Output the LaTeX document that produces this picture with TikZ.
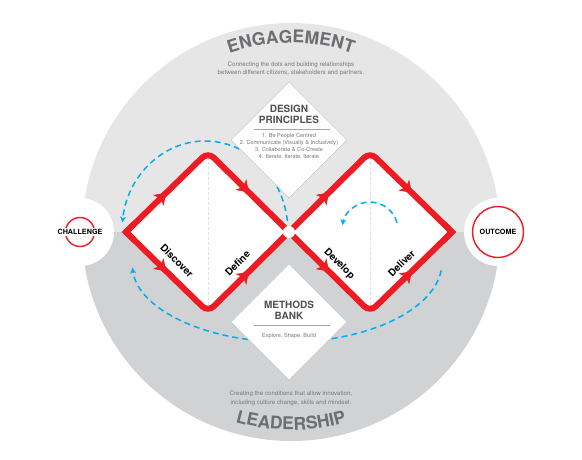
\documentclass[tikz,border=0pt]{standalone}
\usepackage{fontspec}
\setmainfont{TeX Gyre Heros}
\usetikzlibrary{arrows.meta, calc, shapes.geometric, decorations.markings, decorations.text}

\definecolor{ddred}{RGB}{237,28,36}
\definecolor{ddblue}{RGB}{0,174,239}
\definecolor{bandlight}{RGB}{230,230,230}
\definecolor{banddark}{RGB}{209,210,212}
\definecolor{titlegray}{RGB}{109,110,113}
\definecolor{notegray}{RGB}{118,119,122}
\definecolor{cardgray}{RGB}{80,81,84}

\begin{document}
\begin{tikzpicture}[%
        x = 1pt, y = -1pt,
        loopflow/.style = {%
            draw = ddblue,
            line width = 1.5pt,
            dash pattern = on 6pt off 4pt,
            -{Stealth[length = 6pt, width = 6pt]}
        }
    ]
    \useasboundingbox (0, 0) rectangle (582, 459);

    % Halves of the big circle.
    \fill [bandlight] (82, 232) arc [start angle = 180, end angle = 0, radius = 209pt] -- cycle;
    \fill [banddark] (82, 232) arc [start angle = 180, end angle = 360, radius = 209pt] -- cycle;

    % Curved headings.
    \path [decorate, decoration = {text along path, text align = center, text color = titlegray,
            text = {|\fontsize{17.5}{17.5}\selectfont\bfseries|ENGAGEMENT}}]
        (146.2, 110.5) arc [start angle = 140, end angle = 40, radius = 189pt];
    \path [decorate, decoration = {text along path, text align = center, text color = titlegray,
            text = {|\fontsize{17.5}{17.5}\selectfont\bfseries|LEADERSHIP}}]
        (139.3, 359.3) arc [start angle = 220, end angle = 320, radius = 198pt];

    \begin{scope}[%
        every node/.style = {%
            align = center,
            text = notegray,
            font = \fontsize{6.2}{8.8}\selectfont
        }
    ]
        % Notes under and over the headings.
        \node (engagenote) at (291, 68.8) {Connecting the dots and building relationships\\between different citizens, stakeholders and partners.};
        \node (leadnote) at (291, 398.2) {Creating the conditions that allow innovation,\\including culture change, skills and mindset.};
    \end{scope}

    \begin{scope}[%
        every node/.style = {%
            circle,
            inner sep = 0pt
        }
    ]
        % Start and end of the process.
        \node [fill = white, minimum size = 68pt] (challengedisk) at (80, 232) {};
        \node [fill = white, minimum size = 68pt] (outcomedisk) at (498, 232) {};
        \node [draw = ddred, line width = 1.4pt, minimum size = 29pt] (challengering) at (challengedisk) {};
        \node [draw = ddred, line width = 1.4pt, minimum size = 51pt] (outcomering) at (outcomedisk) {};
    \end{scope}

    \begin{scope}[%
        every node/.style = {%
            inner sep = 1pt,
            font = \fontsize{7.2}{7.2}\selectfont\bfseries
        }
    ]
        \node [fill = white] (challenge) at (challengedisk) {CHALLENGE};
        \node (outcome) at (outcomedisk) {OUTCOME};
    \end{scope}

    % Outer iteration loops.
    \coordinate (loopdefine) at (287.4, 220.9);
    \coordinate (loopdeliver) at (441.2, 270.4);
    \draw [loopflow] (loopdefine) arc [start angle = 7, end angle = 174, x radius = 83pt, y radius = 91pt];
    \draw [loopflow] (loopdeliver) arc [start angle = -6, end angle = -176, x radius = 155pt, y radius = 80pt];

    \begin{scope}[%
        every node/.style = {%
            diamond,
            draw = gray!45,
            line width = 0.5pt,
            fill = white,
            minimum width = 116pt,
            minimum height = 116pt,
            inner sep = 0pt
        }
    ]
        % Cards between the diamonds.
        \node (principles) at (289, 140) {};
        \node (methods) at (289, 322) {};
    \end{scope}

    \begin{scope}[%
        cardtitle/.style = {%
            align = center,
            text = cardgray,
            inner sep = 0pt,
            font = \fontsize{10}{11}\selectfont\bfseries
        },
        cardtext/.style = {%
            align = center,
            text = notegray,
            inner sep = 0pt,
            font = \fontsize{5.6}{7}\selectfont
        },
        cardrule/.style = {%
            draw = gray!70,
            line width = 0.6pt
        }
    ]
        \node [cardtitle] (principlestitle) at (289, 114.7) {DESIGN\\PRINCIPLES};
        \draw [cardrule] (254, 129) -- (330, 129);
        \node [cardtext] (principleslist) at (289, 146.5) {1. Be People Centred\\2. Communicate (Visually \& Inclusively)\\3. Collaborate \& Co-Create\\4. Iterate, Iterate, Iterate};

        \node [cardtitle] (methodstitle) at (289, 310.5) {METHODS\\BANK};
        \draw [cardrule] (254, 325) -- (330, 325);
        \node [cardtext] (methodslist) at (289, 336) {Explore, Shape, Build};
    \end{scope}

    % Corners of the double diamond.
    \coordinate (discL) at (126, 232);
    \coordinate (discT) at (208, 152);
    \coordinate (cross) at (289, 232);
    \coordinate (discB) at (208, 312);
    \coordinate (delT) at (370, 152);
    \coordinate (delR) at (452, 232);
    \coordinate (delB) at (370, 312);

    \begin{scope}[%
        guide/.style = {%
            draw = gray!25,
            line width = 0.5pt,
            dash pattern = on 3pt off 2pt
        },
        diamondedge/.style = {%
            draw = ddred,
            line width = 6pt,
            rounded corners = 8pt,
            postaction = {decorate},
            decoration = {%
                markings,
                mark = at position 0.25 with {\arrow[line width = 0.5pt]{Stealth[length = 11pt, width = 15pt, inset = 3pt]}},
                mark = at position 0.75 with {\arrow[line width = 0.5pt]{Stealth[length = 11pt, width = 15pt, inset = 3pt]}}
            }
        },
        diamondtip/.style = {%
            draw = ddred,
            line width = 6pt,
            line join = miter
        }
    ]
        \fill [white, rounded corners = 8pt] (discL) -- (discT) -- (cross) -- (discB) -- cycle;
        \fill [white, rounded corners = 8pt] (cross) -- (delT) -- (delR) -- (delB) -- cycle;
        \draw [guide] (discT) -- (discB);
        \draw [guide] (delT) -- (delB);

        \draw [diamondedge] (discL) -- (discT) -- (cross);
        \draw [diamondedge] (discL) -- (discB) -- (cross);
        \draw [diamondedge] (cross) -- (delT) -- (delR);
        \draw [diamondedge] (cross) -- (delB) -- (delR);
        \draw [diamondtip] ($(discL)!0.1!(discT)$) -- (discL) -- ($(discL)!0.1!(discB)$);
        \draw [diamondtip] ($(delR)!0.1!(delT)$) -- (delR) -- ($(delR)!0.1!(delB)$);

        \node [circle, fill = white, minimum size = 12pt, inner sep = 0pt] (crossdot) at (cross) {};
    \end{scope}

    % Inner loop of the develop phase.
    \coordinate (loopdevelop) at (397.0, 222.8);
    \draw [loopflow] (loopdevelop) arc [start angle = 15, end angle = 170, radius = 28pt];

    \begin{scope}[%
        every node/.style = {%
            inner sep = 0pt,
            font = \fontsize{10}{10}\selectfont\bfseries
        }
    ]
        % Phase labels.
        \node [rotate = -45] (discover) at (177, 261) {Discover};
        \node [rotate = 45] (define) at (237.5, 263) {Define};
        \node [rotate = -45] (develop) at (339, 264) {Develop};
        \node [rotate = 45] (deliver) at (401.5, 263.5) {Deliver};
    \end{scope}
\end{tikzpicture}
\end{document}
